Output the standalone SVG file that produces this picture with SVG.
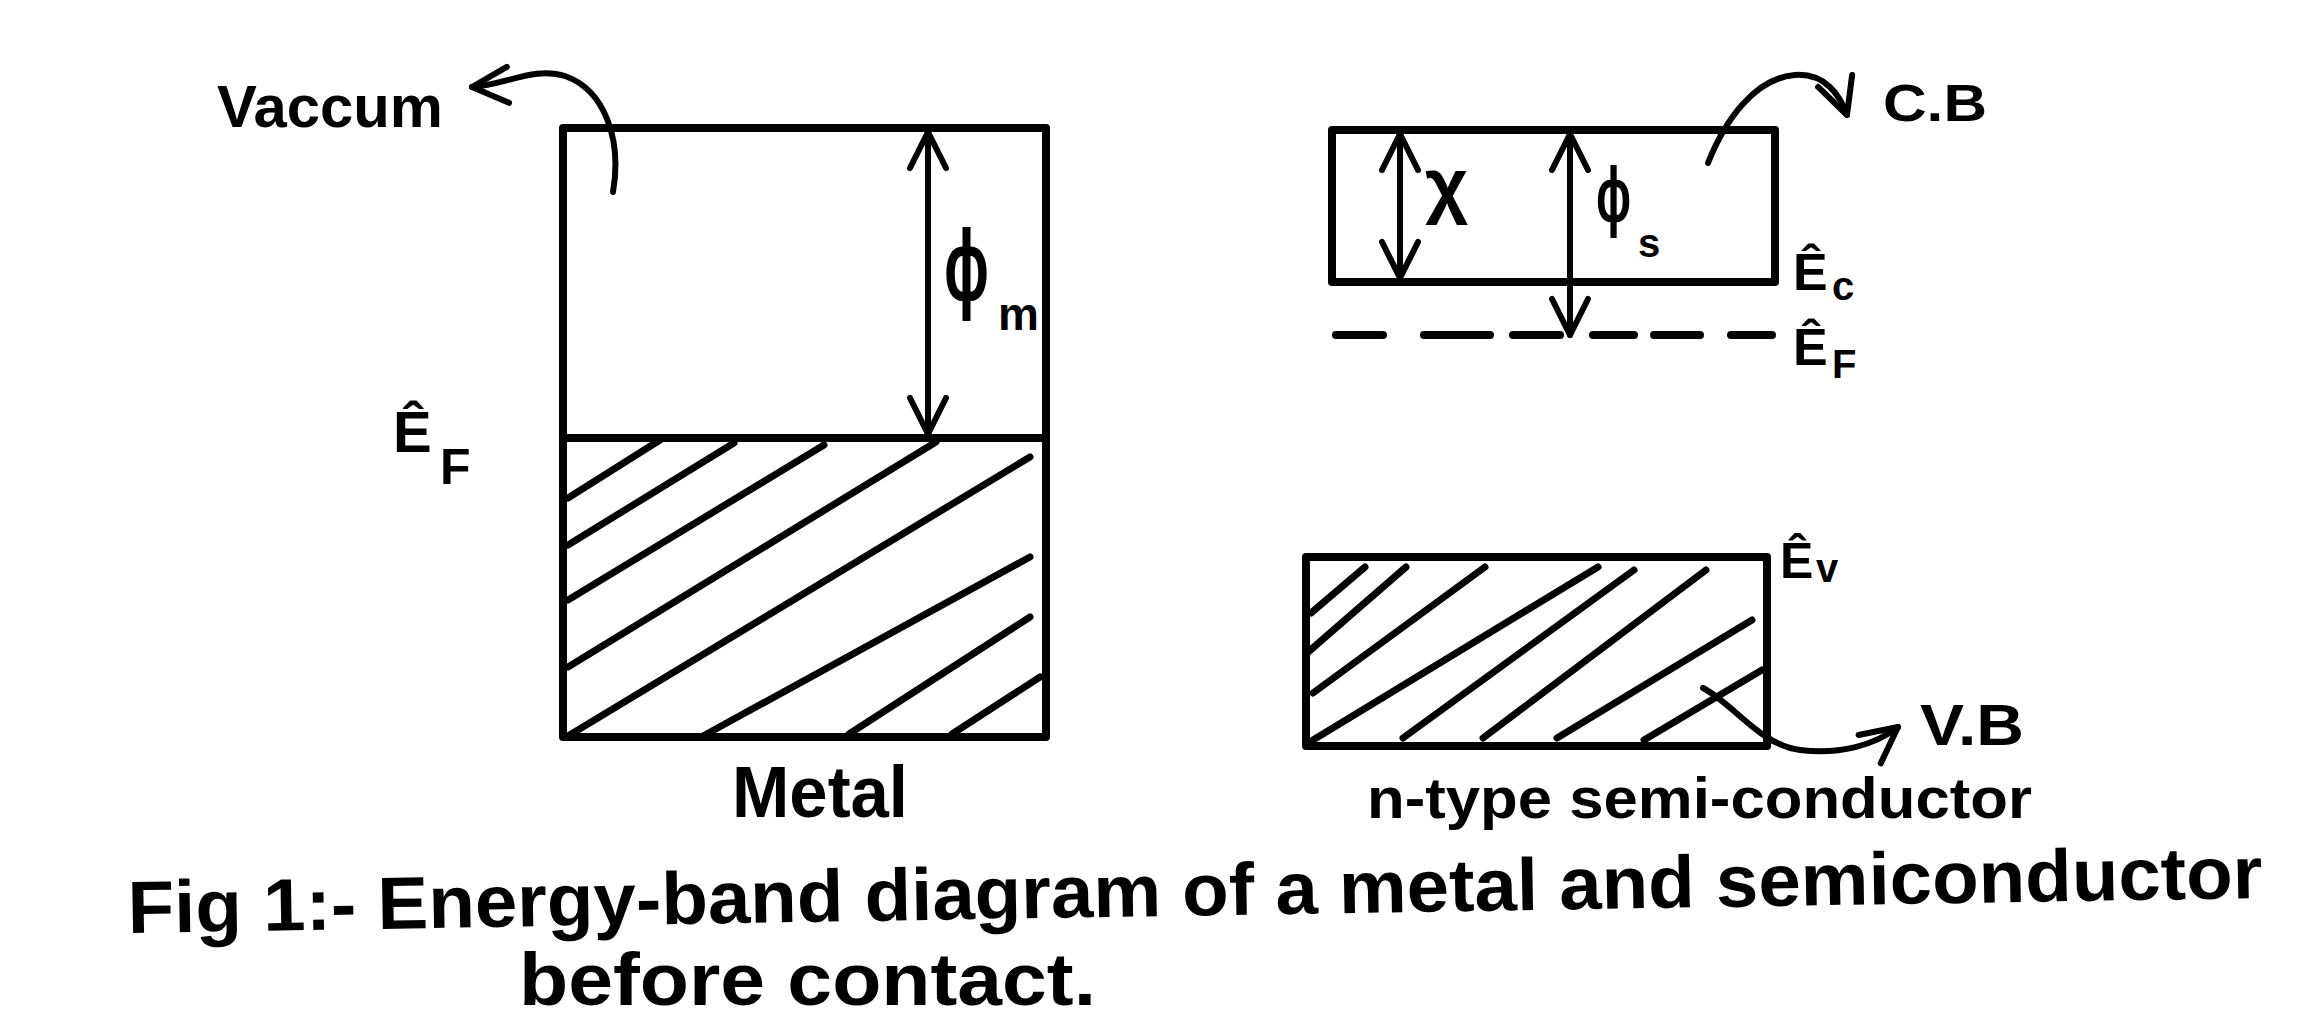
<svg xmlns="http://www.w3.org/2000/svg" width="2316" height="1036" viewBox="0 0 2316 1036">
<style>
.ln{stroke:#000;stroke-width:8;fill:none;stroke-linecap:round;stroke-linejoin:round}
.ht{stroke:#000;stroke-width:7;fill:none;stroke-linecap:round}
.ar{stroke:#000;stroke-width:6;fill:none;stroke-linecap:round}
.t{font-family:"Liberation Sans",Arial,sans-serif;font-weight:bold;fill:#000}
</style>
<defs>
<marker id="ah" viewBox="-50 -30 60 60" markerWidth="60" markerHeight="60" refX="0" refY="0" markerUnits="userSpaceOnUse" orient="auto-start-reverse">
<path d="M-36,-18 L0,0 L-36,18" stroke="#000" stroke-width="6" fill="none" stroke-linecap="round" stroke-linejoin="round"/>
</marker>
</defs>
<rect width="2316" height="1036" fill="#fff"/>

<g id="metal">
<rect class="ln" x="563" y="128" width="483" height="609"/>
<line class="ln" x1="563" y1="438" x2="1046" y2="438"/>
<g class="ht">
<line x1="568" y1="498" x2="660" y2="440"/>
<line x1="568" y1="545" x2="734" y2="443"/>
<line x1="568" y1="600" x2="824" y2="445"/>
<line x1="568" y1="667" x2="936" y2="442"/>
<line x1="568" y1="736" x2="1030" y2="457"/>
<line x1="703" y1="736" x2="1030" y2="557"/>
<line x1="849" y1="734" x2="1030" y2="617"/>
<line x1="952" y1="734" x2="1040" y2="677"/>
</g>
</g>

<g id="sc-cb">
<rect class="ln" x="1332" y="130" width="443" height="152"/>
<path class="ln" d="M1336,335 H1383 M1424,335 H1490 M1513,335 H1560 M1593,335 H1634 M1654,335 H1700 M1731,335 H1772"/>
</g>

<g id="sc-vb">
<rect class="ln" x="1306" y="557" width="461" height="189"/>
<g class="ht">
<line x1="1311" y1="613" x2="1365" y2="567"/>
<line x1="1307" y1="653" x2="1406" y2="567"/>
<line x1="1313" y1="693" x2="1485" y2="567"/>
<line x1="1313" y1="740" x2="1598" y2="567"/>
<line x1="1403" y1="738" x2="1634" y2="570"/>
<line x1="1483" y1="738" x2="1706" y2="570"/>
<line x1="1557" y1="738" x2="1752" y2="620"/>
<line x1="1644" y1="740" x2="1762" y2="670"/>
</g>
</g>

<g id="connectors">
<path class="ar" d="M613,192 C622,140 605,90 565,76 C535,66 505,85 472,87" marker-end="url(#ah)"/>
<line class="ar" x1="928" y1="132" x2="928" y2="434" marker-start="url(#ah)" marker-end="url(#ah)"/>
<line class="ar" x1="1400" y1="134" x2="1400" y2="278" marker-start="url(#ah)" marker-end="url(#ah)"/>
<line class="ar" x1="1570" y1="134" x2="1570" y2="335" marker-start="url(#ah)" marker-end="url(#ah)"/>
<path class="ar" d="M1708,163 C1725,120 1755,78 1795,75 C1825,73 1840,95 1847,115" marker-end="url(#ah)"/>
<path class="ar" d="M1703,688 C1735,705 1760,745 1800,750 C1840,755 1875,745 1898,727" marker-end="url(#ah)"/>
</g>

<g id="labels">
<text class="t" x="217" y="127" font-size="60" textLength="226" lengthAdjust="spacingAndGlyphs">Vaccum</text>
<text class="t" font-size="100" transform="translate(944,300) scale(0.6,1)">ϕ</text>
<text class="t" x="998" y="330" font-size="46">m</text>
<text class="t" y="452" font-size="58"><tspan x="393">Ê</tspan><tspan x="440" y="484" font-size="50">F</tspan></text>
<text class="t" x="1425" y="210" font-size="75">χ</text>
<text class="t" font-size="78" transform="translate(1596,222) scale(0.6,1)">ϕ</text>
<text class="t" x="1638" y="257" font-size="40">s</text>
<text class="t" x="1883" y="121" font-size="52" textLength="104" lengthAdjust="spacingAndGlyphs">C.B</text>
<text class="t" y="290" font-size="52"><tspan x="1793">Ê</tspan><tspan x="1832" y="300" font-size="40">c</tspan></text>
<text class="t" y="365" font-size="52"><tspan x="1793">Ê</tspan><tspan x="1832" y="378" font-size="40">F</tspan></text>
<text class="t" y="578" font-size="50"><tspan x="1780">Ê</tspan><tspan x="1816" y="582" font-size="40">v</tspan></text>
<text class="t" x="1920" y="745" font-size="58" textLength="104" lengthAdjust="spacingAndGlyphs">V.B</text>
<text class="t" x="732" y="817" font-size="72" textLength="176" lengthAdjust="spacingAndGlyphs">Metal</text>
<text class="t" x="1367" y="818" font-size="58" textLength="665" lengthAdjust="spacingAndGlyphs">n-type semi-conductor</text>
<text class="t" x="128" y="933" font-size="74" textLength="2135" lengthAdjust="spacingAndGlyphs" transform="rotate(-0.94 128 933)">Fig 1:- Energy-band diagram of a metal and semiconductor</text>
<text class="t" x="519" y="1005" font-size="74" textLength="577" lengthAdjust="spacingAndGlyphs">before contact.</text>
</g>
</svg>
